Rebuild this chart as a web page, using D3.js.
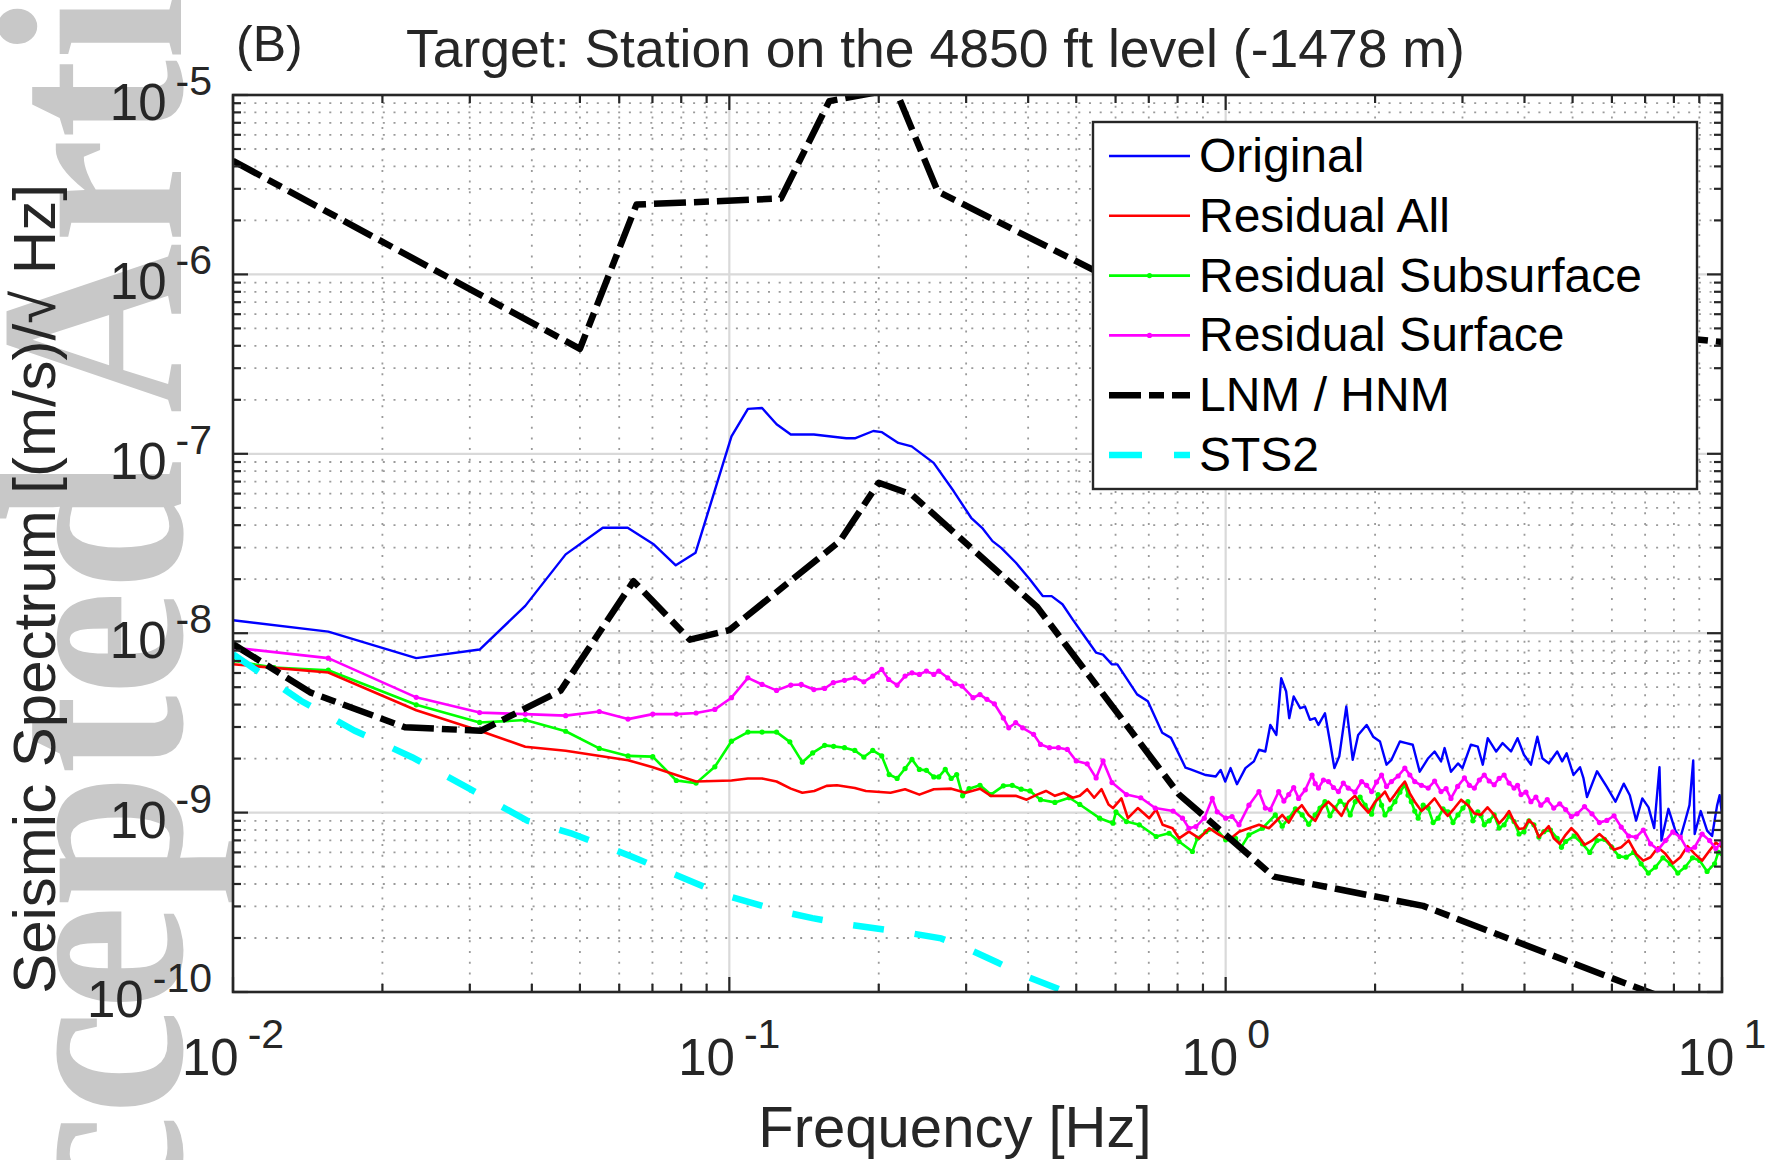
<!DOCTYPE html>
<html><head><meta charset="utf-8">
<script src="https://cdn.jsdelivr.net/npm/d3@7"></script>
<style>
body{margin:0;background:#fff}
svg{display:block}
.sans{font-family:"Liberation Sans",Arial,Helvetica,sans-serif}
.wm{font-family:"Liberation Serif","Times New Roman",serif;font-weight:bold}
</style>
</head><body>
<svg id="chart" width="1768" height="1160"></svg>
<script>
// ---------------- text ----------------
const panelLabel = "(B)";
const titleText = "Target: Station on the 4850 ft level (-1478 m)";
const xLabelText = "Frequency [Hz]";
const yLabelText = "Seismic Spectrum [(m/s)/\u221A Hz]";
const watermarkText = "Accepted Article";
const xTickExps = [-2, -1, 0, 1];
const yTickExps = [-10, -9, -8, -7, -6, -5];
const legendNames = ["Original", "Residual All", "Residual Subsurface", "Residual Surface", "LNM / HNM", "STS2"];

// ---------------- data ----------------
const originalFreq = [0.01,0.01556,0.0234,0.0314,0.0388,0.0468,0.0556,0.0624,0.0705,0.078,
0.0855,0.101,0.109,0.1164,0.1245,0.133,0.148,0.172,0.179,0.195,
0.203,0.219,0.233,0.258,0.283,0.307,0.323,0.339,0.353,0.378,
0.403,0.428,0.446,0.469,0.492,0.517,0.548,0.566,0.59,0.605,
0.663,0.697,0.745,0.776,0.83,0.85,0.912,0.955,0.977,0.998,
1.023,1.054,1.096,1.14,1.167,1.202,1.23,1.265,1.294,1.324,
1.343,1.371,1.413,1.445,1.479,1.514,1.538,1.585,1.622,1.656,
1.694,1.75,1.803,1.849,1.923,1.982,2.046,2.109,2.158,2.244,
2.312,2.382,2.46,2.559,2.636,2.716,2.761,2.844,2.938,3.0,
3.119,3.221,3.296,3.373,3.508,3.614,3.758,3.873,3.99,4.121,
4.246,4.345,4.477,4.656,4.764,
4.864,5.02,5.176,5.26,5.346,5.6,5.861,6.1,6.339,6.52,
6.714,6.91,7.112,7.3,7.482,7.551,7.8,8.054,8.24,8.433,
8.6,8.75,8.81,9.06,9.333,9.55,9.772,9.89,10];
const originalVal = [1.18e-8,1.02e-8,7.26e-9,8.11e-9,1.42e-8,2.75e-8,3.87e-8,3.87e-8,3.12e-8,2.39e-8,
2.81e-8,1.25e-7,1.78e-7,1.80e-7,1.46e-7,1.28e-7,1.28e-7,1.22e-7,1.22e-7,1.34e-7,
1.32e-7,1.15e-7,1.10e-7,8.9e-8,6.2e-8,4.4e-8,3.87e-8,3.26e-8,2.99e-8,2.47e-8,
2.0e-8,1.61e-8,1.61e-8,1.45e-8,1.19e-8,9.8e-9,7.8e-9,7.6e-9,6.7e-9,6.7e-9,
4.56e-9,4.18e-9,2.79e-9,2.61e-9,1.78e-9,1.74e-9,1.62e-9,1.59e-9,1.73e-9,1.49e-9,
1.77e-9,1.44e-9,1.77e-9,1.93e-9,2.24e-9,2.19e-9,3.08e-9,2.71e-9,5.61e-9,4.73e-9,
3.36e-9,4.44e-9,3.82e-9,3.90e-9,3.29e-9,3.36e-9,3.08e-9,3.58e-9,2.49e-9,1.77e-9,
2.06e-9,3.90e-9,1.97e-9,2.71e-9,3.08e-9,2.65e-9,2.49e-9,1.85e-9,1.97e-9,2.49e-9,
2.44e-9,2.39e-9,1.69e-9,2.01e-9,2.19e-9,1.93e-9,2.29e-9,1.69e-9,1.88e-9,1.77e-9,
2.39e-9,2.33e-9,1.85e-9,2.60e-9,2.19e-9,2.44e-9,2.19e-9,2.60e-9,2.10e-9,1.85e-9,
2.65e-9,2.01e-9,1.88e-9,2.19e-9,1.93e-9,
2.14e-9,1.62e-9,1.79e-9,1.55e-9,1.22e-9,1.70e-9,1.39e-9,1.15e-9,1.45e-9,1.25e-9,
9.04e-10,1.20e-9,1.07e-9,8.2e-10,1.79e-9,6.98e-10,1.05e-9,7.94e-10,7.2e-10,9.04e-10,
1.10e-9,1.95e-9,7.60e-10,1.02e-9,7.94e-10,7.4e-10,1.09e-9,1.25e-9,9.84e-10];

const residualAllFreq = [0.01,0.01556,0.0234,0.0314,0.0388,0.0468,0.0625,0.0701,0.0857,0.101,
0.109,0.1164,0.1245,0.133,0.1403,0.1483,0.157,0.1648,0.179,0.1884,
0.2113,0.226,0.2415,0.2582,0.28,0.2992,0.3199,0.3365,0.3589,0.3776,
0.3972,0.4169,0.4345,0.4529,0.4721,0.492,0.5082,0.526,0.5433,0.5623,
0.5808,0.5929,0.6166,0.6353,0.6653,0.7015,0.7244,0.7464,0.7816,0.8054,
0.8433,0.8851,0.9268,0.9705,1.016,1.064,1.114,1.167,1.222,
1.3,1.34,1.38,1.424,1.469,1.515,1.563,1.61,1.66,1.712,
1.766,1.822,1.879,1.939,2.0,2.047,2.094,2.143,2.193,2.244,
2.296,2.35,2.404,2.48,2.559,2.636,2.716,2.802,2.891,2.982,
3.076,3.17,3.266,3.369,3.475,3.556,3.639,3.724,3.811,3.9,
3.99,4.083,4.178,4.276,4.375,4.477,4.581,4.71,4.842,4.972,
5.105,5.284,5.47,5.662,5.861,6.06,6.266,6.486,6.714,6.942,
7.178,7.43,7.691,7.961,8.241,8.52,8.81,9.12,9.441,9.717,10];
const residualAllVal = [6.71e-9,6.04e-9,3.72e-9,2.86e-9,2.33e-9,2.21e-9,1.96e-9,1.79e-9,1.49e-9,1.51e-9,
1.55e-9,1.55e-9,1.49e-9,1.36e-9,1.29e-9,1.32e-9,1.41e-9,1.42e-9,1.37e-9,1.32e-9,
1.29e-9,1.35e-9,1.26e-9,1.35e-9,1.36e-9,1.29e-9,1.36e-9,1.24e-9,1.24e-9,1.24e-9,
1.18e-9,1.26e-9,1.32e-9,1.24e-9,1.29e-9,1.21e-9,1.24e-9,1.35e-9,1.21e-9,1.35e-9,
1.11e-9,1.06e-9,1.20e-9,9.31e-10,1.06e-9,9.31e-10,1.04e-9,8.55e-10,8.18e-10,7.19e-10,
7.83e-10,7.19e-10,8.18e-10,7.52e-10,7.05e-10,7.83e-10,8.18e-10,8.55e-10,8.18e-10,
9.70e-10,8.8e-10,1.01e-9,1.10e-9,9.70e-10,9.0e-10,1.06e-9,1.15e-9,1.06e-9,9.6e-10,
1.15e-9,1.24e-9,1.10e-9,1.0e-9,1.15e-9,1.22e-9,1.31e-9,1.16e-9,1.26e-9,1.38e-9,
1.49e-9,1.28e-9,1.15e-9,1.02e-9,1.10e-9,1.20e-9,1.06e-9,9.6e-10,1.06e-9,1.18e-9,
1.10e-9,9.9e-10,9.70e-10,1.07e-9,9.70e-10,8.7e-10,9.31e-10,1.02e-9,8.91e-10,8.1e-10,
8.18e-10,9.1e-10,8.55e-10,7.3e-10,7.83e-10,8.4e-10,7.19e-10,6.7e-10,7.52e-10,8.2e-10,
7.60e-10,6.6e-10,6.98e-10,7.6e-10,6.98e-10,6.2e-10,6.41e-10,7.0e-10,5.89e-10,5.4e-10,
5.64e-10,6.4e-10,5.89e-10,5.2e-10,5.64e-10,6.5e-10,5.89e-10,5.4e-10,6.15e-10,6.8e-10,6.41e-10];

const subsurfaceFreq = [0.01,0.0121,0.01556,0.0234,0.0314,0.0388,0.0468,0.0547,0.0625,0.0701,
0.0782,0.0857,0.0935,0.101,0.109,0.1164,0.1245,0.1324,0.1403,0.1472,
0.1556,0.1622,0.1706,0.179,0.1866,0.1945,0.2028,0.2099,0.2178,0.226,
0.2333,0.2415,0.2495,0.2582,0.2642,0.2723,0.2799,0.2871,0.2951,0.3041,
0.3199,0.3365,0.3565,0.3715,0.3873,0.4036,0.4236,0.4529,0.4842,0.5082,
0.5572,0.5929,0.6012,0.631,0.6699,0.7244,0.7691,0.8054,0.857,0.877,
0.912,0.955,1.0,1.047,1.072,1.114,1.186,
1.259,1.3,1.34,1.382,1.426,1.47,1.514,1.549,1.585,1.622,
1.66,1.7,1.742,1.782,1.824,1.866,1.91,1.968,2.028,2.061,
2.094,2.143,2.193,2.244,2.296,2.331,2.366,2.404,2.443,2.5,
2.559,2.618,2.679,2.741,2.805,2.871,2.938,3.006,3.076,3.148,
3.221,3.27,3.319,3.396,3.475,3.556,3.639,3.724,3.811,3.9,
3.99,4.083,4.178,4.276,4.375,4.513,4.656,4.748,4.842,5.035,
5.236,5.414,5.598,5.794,5.998,6.201,6.412,6.638,6.871,7.104,
7.345,7.603,7.87,8.147,8.433,8.72,9.016,9.333,9.661,9.829,10];
const subsurfaceVal = [7.02e-9,6.44e-9,6.22e-9,3.99e-9,3.18e-9,3.28e-9,2.84e-9,2.28e-9,2.07e-9,2.05e-9,
1.51e-9,1.46e-9,1.80e-9,2.50e-9,2.81e-9,2.81e-9,2.81e-9,2.48e-9,1.91e-9,2.15e-9,
2.37e-9,2.34e-9,2.30e-9,2.22e-9,2.04e-9,2.22e-9,2.07e-9,1.63e-9,1.55e-9,1.76e-9,
1.98e-9,1.74e-9,1.72e-9,1.58e-9,1.58e-9,1.74e-9,1.55e-9,1.63e-9,1.24e-9,1.36e-9,
1.42e-9,1.26e-9,1.41e-9,1.42e-9,1.35e-9,1.32e-9,1.18e-9,1.14e-9,1.21e-9,1.11e-9,
9.31e-10,8.73e-10,1.01e-9,8.91e-10,8.55e-10,7.36e-10,7.67e-10,6.90e-10,6.07e-10,7.19e-10,
7.83e-10,8.18e-10,7.05e-10,7.19e-10,6.34e-10,7.52e-10,8.18e-10,
9.70e-10,8.4e-10,9.31e-10,1.05e-9,9.70e-10,8.6e-10,9.70e-10,1.06e-9,1.15e-9,9.6e-10,
1.06e-9,1.16e-9,1.10e-9,9.7e-10,1.15e-9,1.22e-9,1.10e-9,9.8e-10,1.26e-9,1.10e-9,
9.70e-10,1.05e-9,1.15e-9,1.30e-9,1.43e-9,1.25e-9,1.15e-9,1.02e-9,9.31e-10,1.10e-9,
1.06e-9,8.8e-10,9.31e-10,1.05e-9,1.01e-9,8.8e-10,9.70e-10,1.06e-9,1.15e-9,9.0e-10,
1.01e-9,9.6e-10,8.55e-10,9.0e-10,9.70e-10,8.2e-10,8.55e-10,9.6e-10,8.91e-10,7.6e-10,
7.83e-10,9.0e-10,8.55e-10,7.3e-10,7.83e-10,8.0e-10,7.19e-10,6.4e-10,6.90e-10,7.4e-10,
6.70e-10,6.0e-10,6.98e-10,7.1e-10,6.41e-10,5.7e-10,5.64e-10,6.0e-10,5.18e-10,4.6e-10,
4.97e-10,5.6e-10,5.18e-10,4.6e-10,4.97e-10,5.6e-10,5.41e-10,4.7e-10,5.18e-10,6.0e-10,5.89e-10];

const surfaceFreq = [0.01,0.01556,0.0234,0.0314,0.0388,0.0468,0.0547,0.0625,0.0701,0.0782,
0.0857,0.0935,0.101,0.109,0.1164,0.1245,0.133,0.1396,0.148,0.1556,
0.162,0.1706,0.179,0.1866,0.1945,0.2028,0.2094,0.2178,0.226,0.2333,
0.2415,0.2495,0.2582,0.2642,0.2754,0.2851,0.2944,0.3097,0.3199,0.3304,
0.342,0.3565,0.3656,0.3776,0.3899,0.4102,0.4236,0.4416,0.4603,0.4797,
0.5,0.526,0.5483,0.5662,0.5902,0.631,0.6745,0.7211,0.7834,0.8185,
0.8433,0.871,0.9057,0.9397,0.9616,1.0,1.03,1.064,1.114,1.167,
1.202,1.23,
1.279,1.31,1.34,1.371,1.403,1.447,1.493,1.515,1.538,1.574,
1.611,1.649,1.687,1.726,1.766,1.822,1.879,1.923,1.968,2.014,
2.061,2.109,2.158,2.226,2.296,2.35,2.404,2.48,2.559,2.636,
2.716,2.78,2.844,2.934,3.027,3.098,3.17,3.244,3.319,3.396,
3.475,3.556,3.639,3.724,3.811,3.873,3.936,4.027,4.121,4.217,
4.315,4.446,4.581,4.71,4.842,4.972,5.105,5.284,5.47,5.662,
5.861,6.06,6.266,6.486,6.714,6.942,7.178,7.43,7.691,7.961,
8.241,8.52,8.81,9.12,9.441,9.717,10];
const surfaceVal = [8.32e-9,7.26e-9,4.39e-9,3.61e-9,3.54e-9,3.47e-9,3.66e-9,3.32e-9,3.54e-9,3.54e-9,
3.59e-9,3.76e-9,4.37e-9,5.64e-9,5.18e-9,4.80e-9,5.14e-9,5.18e-9,4.85e-9,4.92e-9,
5.30e-9,5.46e-9,5.64e-9,5.36e-9,5.77e-9,6.28e-9,5.52e-9,5.14e-9,5.77e-9,6.01e-9,
5.89e-9,6.15e-9,5.89e-9,6.15e-9,5.64e-9,5.22e-9,5.07e-9,4.37e-9,4.55e-9,4.28e-9,
4.04e-9,3.37e-9,2.97e-9,3.17e-9,2.97e-9,2.73e-9,2.40e-9,2.30e-9,2.30e-9,2.25e-9,
1.94e-9,1.87e-9,1.56e-9,1.94e-9,1.47e-9,1.26e-9,1.21e-9,1.06e-9,1.02e-9,9.31e-10,
8.18e-10,8.36e-10,9.31e-10,1.20e-9,1.01e-9,9.31e-10,9.51e-10,8.55e-10,1.10e-9,1.31e-9,
1.06e-9,1.04e-9,
1.31e-9,1.16e-9,1.26e-9,1.38e-9,1.20e-9,1.34e-9,1.62e-9,1.45e-9,1.37e-9,1.52e-9,
1.49e-9,1.38e-9,1.31e-9,1.46e-9,1.37e-9,1.30e-9,1.49e-9,1.42e-9,1.31e-9,1.48e-9,
1.62e-9,1.40e-9,1.49e-9,1.60e-9,1.77e-9,1.62e-9,1.49e-9,1.42e-9,1.37e-9,1.50e-9,
1.31e-9,1.36e-9,1.20e-9,1.40e-9,1.56e-9,1.42e-9,1.37e-9,1.52e-9,1.62e-9,1.50e-9,
1.43e-9,1.55e-9,1.62e-9,1.46e-9,1.37e-9,1.42e-9,1.26e-9,1.30e-9,1.15e-9,1.22e-9,
1.10e-9,1.18e-9,1.06e-9,1.12e-9,1.04e-9,9.5e-10,9.84e-10,1.08e-9,9.84e-10,8.8e-10,
9.04e-10,9.6e-10,8.30e-10,7.4e-10,7.30e-10,8.0e-10,6.70e-10,6.2e-10,6.98e-10,7.8e-10,
7.30e-10,6.2e-10,6.41e-10,7.6e-10,6.98e-10,6.3e-10,6.84e-10];

const lnmFreq = [0.01,0.0143,0.0222,0.0316,0.0457,0.0641,0.0833,0.1,0.167,0.2,0.233,0.417,0.806,1.25,2.5,5.88,10];
const lnmVal  = [8.7e-9,4.68e-9,2.99e-9,2.86e-9,4.78e-9,1.95e-8,9.2e-9,1.04e-8,3.26e-8,6.9e-8,5.93e-8,1.4e-8,1.26e-9,4.4e-10,3.02e-10,1.22e-10,7.0e-11];
const hnmFreq = [0.01,0.05,0.065,0.127,0.159,0.216,0.263,1.25,3.125,4.55,10];
const hnmVal  = [4.3e-6,3.85e-7,2.45e-6,2.65e-6,9.25e-6,1.08e-5,2.9e-6,3.3e-7,5.5e-7,5.2e-7,4.2e-7];

const sts2Freq = [0.01,0.0137,0.0176,0.023,0.03,0.0392,0.048,0.0637,0.0962,0.1276,0.147,0.1705,0.198,0.229,0.267,0.304,0.347,0.397,0.469,0.6];
const sts2Val  = [7.64e-9,4.20e-9,2.86e-9,2.03e-9,1.355e-9,9.0e-10,7.67e-10,5.68e-10,3.52e-10,2.81e-10,2.58e-10,2.39e-10,2.26e-10,2.14e-10,1.99e-10,1.73e-10,1.46e-10,1.22e-10,1.02e-10,7.4e-11];

// ---------------- layout ----------------
const svg = d3.select("#chart");
const L = 233, R = 1722, T = 95, B = 992;
const xs = d3.scaleLog().domain([0.01, 10]).range([L, R]);
const ys = d3.scaleLog().domain([1e-10, 1e-5]).range([B, T]);
const ink = "#262626";

// watermark (journal stamp at the left edge)
svg.append("text").attr("class", "wm")
  .attr("transform", "translate(181,1390) rotate(-90) scale(1,1.12)")
  .attr("font-size", 236)
  .attr("fill", "#c8c8c8")
  .text(watermarkText);

svg.append("rect").attr("x", L).attr("y", T).attr("width", R - L).attr("height", B - T).attr("fill", "#fff");

// tick values
const xMajor = xTickExps.map(e => Math.pow(10, e));
const yMajor = yTickExps.map(e => Math.pow(10, e));
const xMinor = [], yMinor = [];
xTickExps.slice(0, -1).forEach(e => { for (let k = 2; k <= 9; k++) xMinor.push(k * Math.pow(10, e)); });
yTickExps.slice(0, -1).forEach(e => { for (let k = 2; k <= 9; k++) yMinor.push(k * Math.pow(10, e)); });

// grid
const grid = svg.append("g");
grid.selectAll(".gxm").data(xMinor).join("line")
  .attr("x1", d => xs(d)).attr("x2", d => xs(d)).attr("y1", T).attr("y2", B)
  .attr("stroke", "#9a9a9a").attr("stroke-width", 1.8).attr("stroke-dasharray", "2,8.7");
grid.selectAll(".gym").data(yMinor).join("line")
  .attr("y1", d => ys(d)).attr("y2", d => ys(d)).attr("x1", L).attr("x2", R)
  .attr("stroke", "#9a9a9a").attr("stroke-width", 1.8).attr("stroke-dasharray", "2,8.7");
grid.selectAll(".gx").data(xMajor.slice(1, -1)).join("line")
  .attr("x1", d => xs(d)).attr("x2", d => xs(d)).attr("y1", T).attr("y2", B)
  .attr("stroke", "#d9d9d9").attr("stroke-width", 2.2);
grid.selectAll(".gy").data(yMajor.slice(1, -1)).join("line")
  .attr("y1", d => ys(d)).attr("y2", d => ys(d)).attr("x1", L).attr("x2", R)
  .attr("stroke", "#d9d9d9").attr("stroke-width", 2.2);

// clip
svg.append("clipPath").attr("id", "clip").append("rect")
  .attr("x", L).attr("y", T).attr("width", R - L).attr("height", B - T);
const plot = svg.append("g").attr("clip-path", "url(#clip)");

const line = d3.line().x(d => xs(d[0])).y(d => ys(d[1]));
const zip = (f, v) => f.map((x, i) => [x, v[i]]);

const series = [
  {data: zip(originalFreq, originalVal), color: "#0000ff", w: 2.4, markers: false},
  {data: zip(subsurfaceFreq, subsurfaceVal), color: "#00ff00", w: 2.6, markers: true},
  {data: zip(residualAllFreq, residualAllVal), color: "#ff0000", w: 2.6, markers: false},
  {data: zip(surfaceFreq, surfaceVal), color: "#ff00ff", w: 2.6, markers: true}
];
series.forEach(s => {
  plot.append("path").datum(s.data).attr("d", line)
    .attr("fill", "none").attr("stroke", s.color).attr("stroke-width", s.w)
    .attr("stroke-linejoin", "round");
  if (s.markers) {
    plot.append("g").selectAll("circle").data(s.data).join("circle")
      .attr("cx", d => xs(d[0])).attr("cy", d => ys(d[1])).attr("r", 2.6).attr("fill", s.color);
  }
});

const dashDot = "32,8,15,8";
[zip(lnmFreq, lnmVal), zip(hnmFreq, hnmVal)].forEach(d => {
  plot.append("path").datum(d).attr("d", line)
    .attr("fill", "none").attr("stroke", "#000").attr("stroke-width", 6.5)
    .attr("stroke-dasharray", dashDot).attr("stroke-linejoin", "round");
});
plot.append("path").datum(zip(sts2Freq, sts2Val)).attr("d", line)
  .attr("fill", "none").attr("stroke", "#00ffff").attr("stroke-width", 6.5)
  .attr("stroke-dasharray", "31,31");

// axes box and ticks
const axG = svg.append("g").attr("stroke", ink).attr("stroke-width", 2.2);
function ticks(vals, len, orient) {
  vals.forEach(v => {
    if (orient === "b") axG.append("line").attr("x1", xs(v)).attr("x2", xs(v)).attr("y1", B).attr("y2", B - len);
    if (orient === "t") axG.append("line").attr("x1", xs(v)).attr("x2", xs(v)).attr("y1", T).attr("y2", T + len);
    if (orient === "l") axG.append("line").attr("y1", ys(v)).attr("y2", ys(v)).attr("x1", L).attr("x2", L + len);
    if (orient === "r") axG.append("line").attr("y1", ys(v)).attr("y2", ys(v)).attr("x1", R).attr("x2", R - len);
  });
}
["b", "t"].forEach(o => { ticks(xMajor, 15, o); ticks(xMinor, 8, o); });
["l", "r"].forEach(o => { ticks(yMajor, 15, o); ticks(yMinor, 8, o); });
svg.append("rect").attr("x", L).attr("y", T).attr("width", R - L).attr("height", B - T)
  .attr("fill", "none").attr("stroke", ink).attr("stroke-width", 2.6);

// tick labels
xTickExps.forEach(e => {
  const t = svg.append("text").attr("class", "sans").attr("x", xs(Math.pow(10, e))).attr("y", B + 83)
    .attr("text-anchor", "middle").attr("font-size", 51).attr("fill", ink);
  t.append("tspan").text("10");
  t.append("tspan").attr("dx", 9).attr("dy", -27).attr("font-size", 41).text(String(e));
});
yTickExps.forEach(e => {
  const t = svg.append("text").attr("class", "sans").attr("x", 212).attr("y", ys(Math.pow(10, e)) + 25)
    .attr("text-anchor", "end").attr("font-size", 51).attr("fill", ink);
  t.append("tspan").text("10");
  t.append("tspan").attr("dx", 9).attr("dy", -25).attr("font-size", 41).text(String(e));
});

// labels
svg.append("text").attr("class", "sans").attr("x", 955).attr("y", 1147).attr("text-anchor", "middle")
  .attr("font-size", 58).attr("fill", ink).text(xLabelText);
svg.append("text").attr("class", "sans").attr("transform", "translate(55,589) rotate(-90)").attr("text-anchor", "middle")
  .attr("font-size", 60).attr("fill", ink).text(yLabelText);
svg.append("text").attr("class", "sans").attr("x", 406).attr("y", 67).attr("font-size", 53.5).attr("fill", ink).text(titleText);
svg.append("text").attr("class", "sans").attr("x", 236).attr("y", 61).attr("font-size", 50).attr("fill", ink).text(panelLabel);

// legend
const lg = svg.append("g");
lg.append("rect").attr("x", 1093).attr("y", 122).attr("width", 604).attr("height", 367)
  .attr("fill", "#fff").attr("stroke", ink).attr("stroke-width", 2.4);
const legendStyles = [
  {color: "#0000ff", w: 2.6, dash: null, marker: false},
  {color: "#ff0000", w: 2.6, dash: null, marker: false},
  {color: "#00ff00", w: 2.6, dash: null, marker: true},
  {color: "#ff00ff", w: 2.6, dash: null, marker: true},
  {color: "#000000", w: 6.5, dash: dashDot, marker: false},
  {color: "#00ffff", w: 6.5, dash: "33,32", marker: false}
];
legendNames.forEach((name, i) => {
  const y = 156 + i * 59.8;
  const ln = lg.append("line").attr("x1", 1109).attr("x2", 1190).attr("y1", y).attr("y2", y)
    .attr("stroke", legendStyles[i].color).attr("stroke-width", legendStyles[i].w);
  if (legendStyles[i].dash) ln.attr("stroke-dasharray", legendStyles[i].dash);
  if (legendStyles[i].marker) lg.append("circle").attr("cx", 1149.5).attr("cy", y).attr("r", 2.6).attr("fill", legendStyles[i].color);
  lg.append("text").attr("class", "sans").attr("x", 1199).attr("y", y + 16).attr("font-size", 48).attr("fill", "#000").text(name);
});
</script>
</body></html>
